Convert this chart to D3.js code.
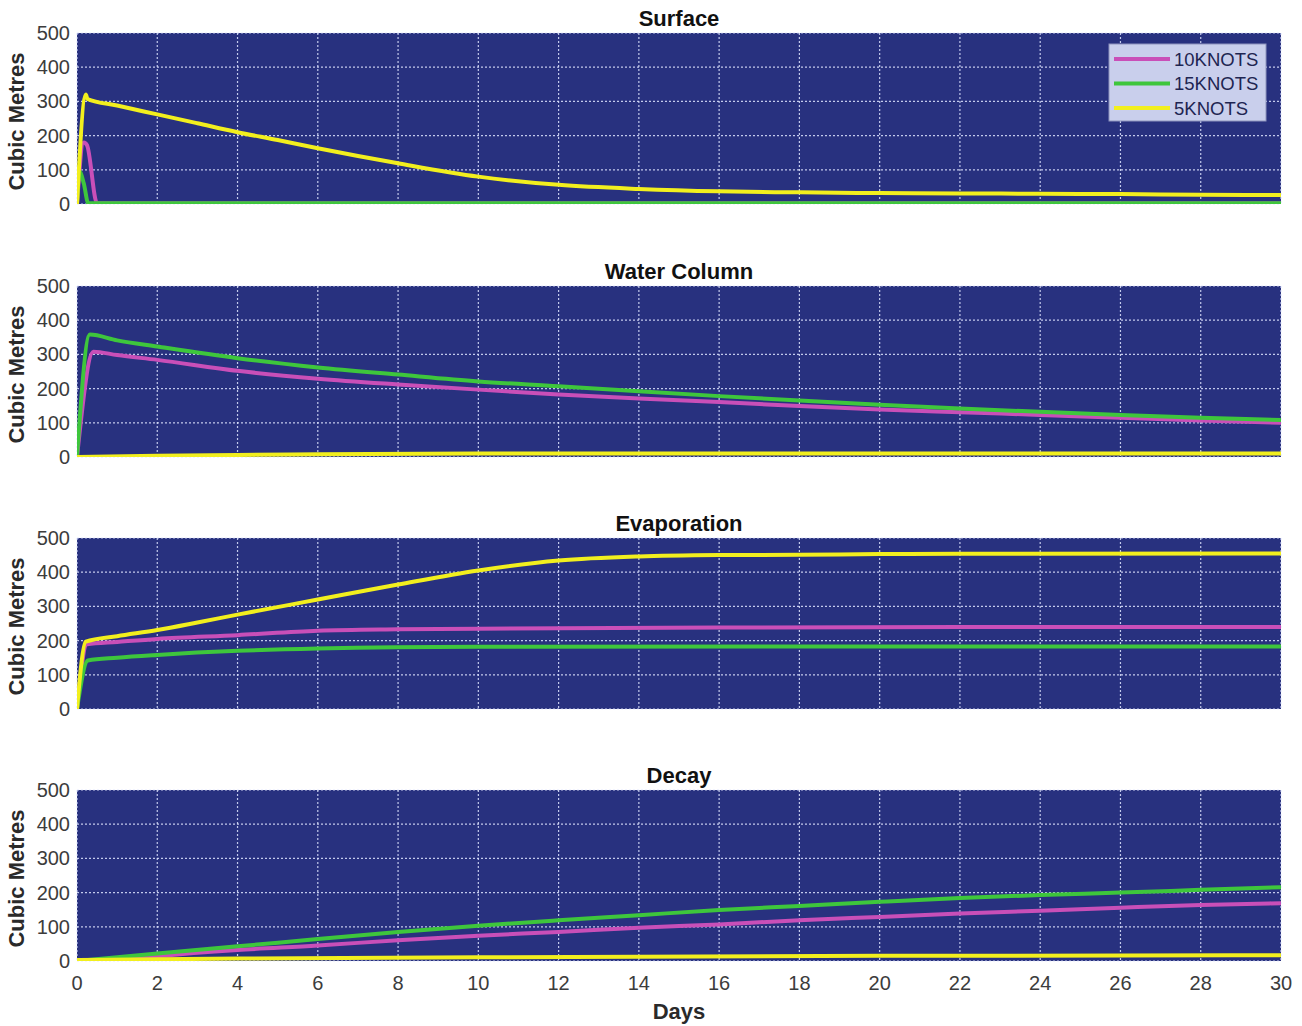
<!DOCTYPE html>
<html>
<head>
<meta charset="utf-8">
<script src="https://cdn.jsdelivr.net/npm/d3@7"></script>
<style>
  body { margin: 0; background: #fff; }
  text { font-family: Arial, "Liberation Sans", Helvetica, sans-serif; }
  .tick-label { font-size: 20px; fill: #3c3c3c; }
  .panel-title { font-size: 22px; font-weight: bold; fill: #111; }
  .y-title, .x-title { font-size: 22px; font-weight: bold; fill: #2a2a2a; }
  .legend-text { font-size: 18.5px; fill: #1e2552; }
</style>
</head>
<body>
<div id="chart"></div>
<script>

// ---- data ----
var panelTitles = ['Surface', 'Water Column', 'Evaporation', 'Decay'];
var seriesNames = ['10KNOTS', '15KNOTS', '5KNOTS'];
var xTicks = [0, 2, 4, 6, 8, 10, 12, 14, 16, 18, 20, 22, 24, 26, 28, 30];
var yTicks = [0, 100, 200, 300, 400, 500];

// [day, cubic metres]
var surface10 = [[0,0],[0.17,180],[0.25,172],[0.5,2],[30,2]];
var surface15 = [[0,0],[0.06,95],[0.17,60],[0.28,2],[30,2]];
var surface5 = [[0,0],[0.22,320],[0.26,307],[1,288],[2,262],[3,236],[4,210],[5,187],[6,163],[8,119],
                [10,80],[12,56],[14,44],[16,37],[18,34],[20,32],[22,31],[24,30],[26,29],[28,27],[30,26]];

var water10 = [[0,0],[0.41,308],[1,298],[2,284],[4,252],[6,229],[8,212],[10,197],[12,183],[14,171],
               [16,161],[18,149],[20,139],[22,131],[24,123],[26,115],[28,107],[30,100]];
var water15 = [[0,0],[0.32,358],[1,341],[2,323],[4,289],[6,262],[8,241],[10,221],[12,207],[14,192],
               [16,178],[18,165],[20,153],[22,142],[24,132],[26,123],[28,115],[30,108]];
var water5 = [[0,0],[2,4],[4,6],[6,8],[10,10],[30,10]];

var evap10 = [[0,0],[0.25,189],[1,196],[2,205],[4,216],[6,229],[8,233],[10,235],[16,238],[22,240],[30,240]];
var evap15 = [[0,0],[0.27,142],[1,150],[2,158],[4,170],[6,177],[10,182],[22,183],[30,183]];
var evap5 = [[0,0],[0.22,197],[1,213],[2,231],[3,253],[4,276],[6,320],[8,364],[10,405],[12,434],
             [14,446],[16,450],[18,451],[20,453],[22,454],[30,455]];

var decay10 = [[1.3,6],[2,14],[4,32],[6,45],[8,61],[10,74],[12,85],[14,97],[16,107],[18,119],
               [20,129],[22,139],[24,147],[26,156],[28,164],[30,169]];
var decay15 = [[0,0],[2,22],[4,43],[6,64],[8,85],[10,103],[12,119],[14,134],[16,149],[18,161],
               [20,173],[22,184],[24,193],[26,200],[28,208],[30,216]];
var decay5 = [[0,3],[4,7],[10,11],[20,15],[30,17]];

var panelSeries = [
    [surface10, surface15, surface5],
    [water10, water15, water5],
    [evap10, evap15, evap5],
    [decay10, decay15, decay5],
];

var colors = { '10KNOTS': '#c94fb8', '15KNOTS': '#3ec63c', '5KNOTS': '#f2ef1e' };

// ---- layout ----
var width = 1302, height = 1026;
var plotLeft = 77, plotRight = 1281;
var panelTops = [33, 286, 538, 790];
var panelH = 171;

var svg = d3.select('#chart').append('svg')
    .attr('width', width)
    .attr('height', height);

svg.append('rect').attr('width', width).attr('height', height).attr('fill', '#fff');

var x = d3.scaleLinear().domain([0, 30]).range([plotLeft, plotRight]);

panelTitles.forEach(function(title, i) {
    var top = panelTops[i];
    var y = d3.scaleLinear().domain([0, 500]).range([top + panelH, top]);

    var g = svg.append('g').attr('class', 'panel');

    g.append('rect')
        .attr('x', plotLeft).attr('y', top)
        .attr('width', plotRight - plotLeft).attr('height', panelH)
        .attr('fill', '#28317f');

    // dotted grid
    g.selectAll('.vgrid').data(xTicks).enter().append('line')
        .attr('class', 'vgrid')
        .attr('x1', d => x(d)).attr('x2', d => x(d))
        .attr('y1', top).attr('y2', top + panelH)
        .attr('stroke', '#dfe5ff').attr('stroke-width', 1.2)
        .attr('stroke-dasharray', '2,2').attr('opacity', 0.85);

    g.selectAll('.hgrid').data(yTicks).enter().append('line')
        .attr('class', 'hgrid')
        .attr('x1', plotLeft).attr('x2', plotRight)
        .attr('y1', d => y(d)).attr('y2', d => y(d))
        .attr('stroke', '#dfe5ff').attr('stroke-width', 1.2)
        .attr('stroke-dasharray', '2,2').attr('opacity', 0.85);

    // y tick labels
    g.selectAll('.ylab').data(yTicks).enter().append('text')
        .attr('class', 'tick-label')
        .attr('x', plotLeft - 7)
        .attr('y', d => y(d) + 7)
        .attr('text-anchor', 'end')
        .text(d => d);

    g.append('text')
        .attr('class', 'panel-title')
        .attr('x', (plotLeft + plotRight) / 2)
        .attr('y', top - 7)
        .attr('text-anchor', 'middle')
        .text(title);

    g.append('text')
        .attr('class', 'y-title')
        .attr('transform', 'translate(' + 24 + ',' + (top + panelH / 2 + 3) + ') rotate(-90)')
        .attr('text-anchor', 'middle')
        .text('Cubic Metres');

    var clipId = 'clip' + i;
    svg.append('clipPath').attr('id', clipId)
        .append('rect')
        .attr('x', plotLeft).attr('y', top - 3)
        .attr('width', plotRight - plotLeft).attr('height', panelH + 3);

    var line = d3.line()
        .x(d => x(d[0]))
        .y(d => y(d[1]))
        .curve(d3.curveMonotoneX);

    g.append('g').attr('clip-path', 'url(#' + clipId + ')')
        .selectAll('path')
        .data(panelSeries[i])
        .enter().append('path')
        .attr('d', line)
        .attr('fill', 'none')
        .attr('stroke', (d, j) => colors[seriesNames[j]])
        .attr('stroke-width', 4)
        .attr('stroke-linejoin', 'round');
});

// x tick labels under the last panel
var lastBottom = panelTops[3] + panelH;
svg.selectAll('.xlab').data(xTicks).enter().append('text')
    .attr('class', 'tick-label')
    .attr('x', d => x(d))
    .attr('y', lastBottom + 29)
    .attr('text-anchor', 'middle')
    .text(d => d);

svg.append('text')
    .attr('class', 'x-title')
    .attr('x', (plotLeft + plotRight) / 2)
    .attr('y', lastBottom + 58)
    .attr('text-anchor', 'middle')
    .text('Days');

// legend in the first panel
var legend = svg.append('g').attr('transform', 'translate(1109,44)');
legend.append('rect')
    .attr('width', 157).attr('height', 77)
    .attr('fill', '#c9cfec')
    .attr('stroke', '#8d94bd').attr('stroke-width', 1);

seriesNames.forEach(function(name, j) {
    var ly = 15 + j * 24.5;
    legend.append('line')
        .attr('x1', 5).attr('x2', 61)
        .attr('y1', ly).attr('y2', ly)
        .attr('stroke', colors[name]).attr('stroke-width', 4);
    legend.append('text')
        .attr('class', 'legend-text')
        .attr('x', 65).attr('y', ly + 6.5)
        .text(name);
});

</script>
</body>
</html>
